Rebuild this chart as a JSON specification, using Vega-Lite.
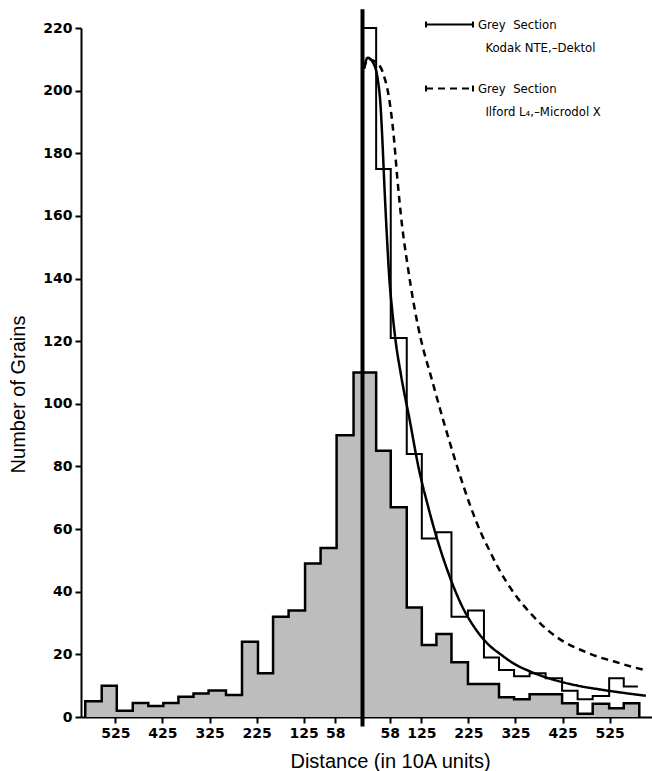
{
  "$schema": "https://vega.github.io/schema/vega-lite/v6.json",
  "width": 571,
  "height": 689,
  "autosize": "none",
  "padding": {"left": 81, "top": 28, "right": 0, "bottom": 54},
  "background": "white",
  "config": {
    "view": {"stroke": null},
    "axis": {
      "grid": false,
      "domainColor": "black",
      "domainWidth": 2,
      "tickColor": "black",
      "tickWidth": 2,
      "tickSize": 6,
      "labelFont": "DejaVu Sans",
      "labelFontWeight": "bold",
      "labelFontSize": 14,
      "labelColor": "black",
      "labelOverlap": false,
      "labelFlush": false,
      "titleFont": "Liberation Sans",
      "titleFontSize": 20,
      "titleFontWeight": "normal",
      "titleColor": "black"
    }
  },
  "datasets": {
    "grains": [
      {"dist": -589, "grains": 0},
      {"dist": -589, "grains": 5},
      {"dist": -554, "grains": 10},
      {"dist": -522, "grains": 2},
      {"dist": -488, "grains": 4.5},
      {"dist": -455, "grains": 3.5},
      {"dist": -423, "grains": 4.5},
      {"dist": -391, "grains": 6.5},
      {"dist": -359, "grains": 7.5},
      {"dist": -327, "grains": 8.5},
      {"dist": -290, "grains": 7},
      {"dist": -256, "grains": 24},
      {"dist": -222, "grains": 14},
      {"dist": -190, "grains": 32},
      {"dist": -157, "grains": 34},
      {"dist": -122, "grains": 49},
      {"dist": -89, "grains": 54},
      {"dist": -55, "grains": 90},
      {"dist": -19, "grains": 110},
      {"dist": 29, "grains": 85},
      {"dist": 60, "grains": 67},
      {"dist": 94, "grains": 35},
      {"dist": 126, "grains": 23},
      {"dist": 157, "grains": 26.5},
      {"dist": 189, "grains": 17.5},
      {"dist": 224, "grains": 10.5},
      {"dist": 258, "grains": 10.5},
      {"dist": 290, "grains": 6.3},
      {"dist": 322, "grains": 5.7},
      {"dist": 355, "grains": 7.3},
      {"dist": 389, "grains": 7.3},
      {"dist": 424, "grains": 4.4},
      {"dist": 457, "grains": 1},
      {"dist": 489, "grains": 4.2},
      {"dist": 524, "grains": 2.8},
      {"dist": 555, "grains": 4.4},
      {"dist": 588, "grains": 0}
    ],
    "section": [
      {"dist": 0, "grains": 220},
      {"dist": 29, "grains": 175},
      {"dist": 60, "grains": 121},
      {"dist": 94, "grains": 84},
      {"dist": 126, "grains": 57},
      {"dist": 157, "grains": 59},
      {"dist": 189, "grains": 32},
      {"dist": 224, "grains": 34},
      {"dist": 258, "grains": 19},
      {"dist": 290, "grains": 15},
      {"dist": 322, "grains": 13},
      {"dist": 355, "grains": 14},
      {"dist": 389, "grains": 12.4},
      {"dist": 424, "grains": 8.4},
      {"dist": 457, "grains": 5.7},
      {"dist": 489, "grains": 6.7},
      {"dist": 524, "grains": 12.4},
      {"dist": 555, "grains": 9.7},
      {"dist": 585, "grains": 9.7}
    ],
    "origin": [
      {"dist": 0, "grains": -3, "top": 226}
    ],
    "curves": [
      {"series": "Kodak", "dist": 3, "grains": 207},
      {"series": "Kodak", "dist": 11, "grains": 210.5},
      {"series": "Kodak", "dist": 24, "grains": 208.5},
      {"series": "Kodak", "dist": 33, "grains": 203},
      {"series": "Kodak", "dist": 38, "grains": 196},
      {"series": "Kodak", "dist": 42, "grains": 185},
      {"series": "Kodak", "dist": 47, "grains": 168},
      {"series": "Kodak", "dist": 52, "grains": 153},
      {"series": "Kodak", "dist": 57, "grains": 140},
      {"series": "Kodak", "dist": 63, "grains": 130},
      {"series": "Kodak", "dist": 70, "grains": 120.5},
      {"series": "Kodak", "dist": 82, "grains": 109},
      {"series": "Kodak", "dist": 100, "grains": 95},
      {"series": "Kodak", "dist": 120, "grains": 79},
      {"series": "Kodak", "dist": 138, "grains": 68},
      {"series": "Kodak", "dist": 157, "grains": 57.6},
      {"series": "Kodak", "dist": 180, "grains": 47},
      {"series": "Kodak", "dist": 208, "grains": 36.5},
      {"series": "Kodak", "dist": 243, "grains": 27.5},
      {"series": "Kodak", "dist": 272, "grains": 22.5},
      {"series": "Kodak", "dist": 290, "grains": 20.4},
      {"series": "Kodak", "dist": 322, "grains": 17},
      {"series": "Kodak", "dist": 357, "grains": 14.5},
      {"series": "Kodak", "dist": 393, "grains": 12.5},
      {"series": "Kodak", "dist": 428, "grains": 11},
      {"series": "Kodak", "dist": 464, "grains": 9.8},
      {"series": "Kodak", "dist": 500, "grains": 8.9},
      {"series": "Kodak", "dist": 535, "grains": 8.1},
      {"series": "Kodak", "dist": 570, "grains": 7.4},
      {"series": "Kodak", "dist": 602, "grains": 6.8},
      {"series": "Ilford", "dist": 3, "grains": 207},
      {"series": "Ilford", "dist": 12, "grains": 210},
      {"series": "Ilford", "dist": 30, "grains": 209},
      {"series": "Ilford", "dist": 45, "grains": 205},
      {"series": "Ilford", "dist": 56, "grains": 198},
      {"series": "Ilford", "dist": 66, "grains": 186},
      {"series": "Ilford", "dist": 74, "grains": 172},
      {"series": "Ilford", "dist": 84, "grains": 157},
      {"series": "Ilford", "dist": 95, "grains": 145},
      {"series": "Ilford", "dist": 110, "grains": 131},
      {"series": "Ilford", "dist": 125, "grains": 120},
      {"series": "Ilford", "dist": 145, "grains": 109},
      {"series": "Ilford", "dist": 173, "grains": 94},
      {"series": "Ilford", "dist": 201, "grains": 80},
      {"series": "Ilford", "dist": 230, "grains": 67},
      {"series": "Ilford", "dist": 251, "grains": 59},
      {"series": "Ilford", "dist": 269, "grains": 53.4},
      {"series": "Ilford", "dist": 287, "grains": 48},
      {"series": "Ilford", "dist": 322, "grains": 39.5},
      {"series": "Ilford", "dist": 357, "grains": 33.1},
      {"series": "Ilford", "dist": 393, "grains": 27.8},
      {"series": "Ilford", "dist": 428, "grains": 24},
      {"series": "Ilford", "dist": 464, "grains": 21.4},
      {"series": "Ilford", "dist": 499, "grains": 19.3},
      {"series": "Ilford", "dist": 535, "grains": 17.7},
      {"series": "Ilford", "dist": 570, "grains": 16.1},
      {"series": "Ilford", "dist": 600, "grains": 15}
    ]
  },
  "encoding": {
    "x": {
      "field": "dist",
      "type": "quantitative",
      "scale": {"domain": [-598, 615], "nice": false, "zero": false},
      "axis": {
        "values": [-525, -425, -325, -225, -125, -58, 58, 125, 225, 325, 425, 525],
        "labelExpr": "abs(datum.value)",
        "labelPadding": 3,
        "title": "Distance (in 10A units)",
        "titleX": 309,
        "titleY": 50,
        "titleBaseline": "alphabetic"
      }
    },
    "y": {
      "field": "grains",
      "type": "quantitative",
      "scale": {"domain": [0, 220], "nice": false},
      "axis": {
        "values": [0, 20, 40, 60, 80, 100, 120, 140, 160, 180, 200, 220],
        "labelPadding": 3,
        "title": "Number of Grains",
        "titleX": -63,
        "titleY": 366,
        "titleBaseline": "middle"
      }
    }
  },
  "layer": [
    {
      "data": {"name": "grains"},
      "mark": {"type": "area", "interpolate": "step-after", "fill": "#bdbdbd"},
      "encoding": {"order": {"value": null}}
    },
    {
      "data": {"name": "grains"},
      "mark": {"type": "line", "interpolate": "step-after", "stroke": "black", "strokeWidth": 2.5},
      "encoding": {"order": {"value": null}}
    },
    {
      "data": {"name": "section"},
      "mark": {"type": "line", "interpolate": "step-after", "stroke": "black", "strokeWidth": 2},
      "encoding": {"order": {"value": null}}
    },
    {
      "data": {"name": "curves"},
      "mark": {"type": "line", "interpolate": "monotone", "stroke": "black", "strokeWidth": 2.5},
      "encoding": {
        "strokeDash": {
          "field": "series",
          "type": "nominal",
          "scale": {"domain": ["Kodak", "Ilford"], "range": [[1, 0], [7, 5]]},
          "legend": {
            "title": null,
            "orient": "none",
            "legendX": 344,
            "legendY": -28,
            "padding": 0,
            "symbolType": "M-1,-0.13V0.13M-1,0H1M1,-0.13V0.13",
            "symbolSize": 2209,
            "symbolStrokeWidth": 2,
            "symbolStrokeColor": "black",
            "symbolFillColor": "transparent",
            "labelFont": "DejaVu Sans Condensed, Liberation Sans",
            "labelFontSize": 13,
            "labelColor": "black",
            "labelBaseline": "middle",
            "labelOffset": 4,
            "labelLimit": 0,
            "rowPadding": 9,
            "labelExpr": "datum.label == 'Kodak' ? ['Grey\u00a0\u00a0Section', '\u200b\u00a0\u00a0Kodak NTE,\u2013Dektol'] : ['Grey\u00a0\u00a0Section', '\u200b\u00a0\u00a0Ilford L\u2084,\u2013Microdol X']",
            "encode": {"labels": {"update": {"lineHeight": {"value": 23}}}}
          }
        }
      }
    },
    {
      "data": {"name": "origin"},
      "mark": {"type": "rule", "color": "black", "strokeWidth": 4},
      "encoding": {
        "y2": {"field": "top"}
      }
    }
  ]
}
